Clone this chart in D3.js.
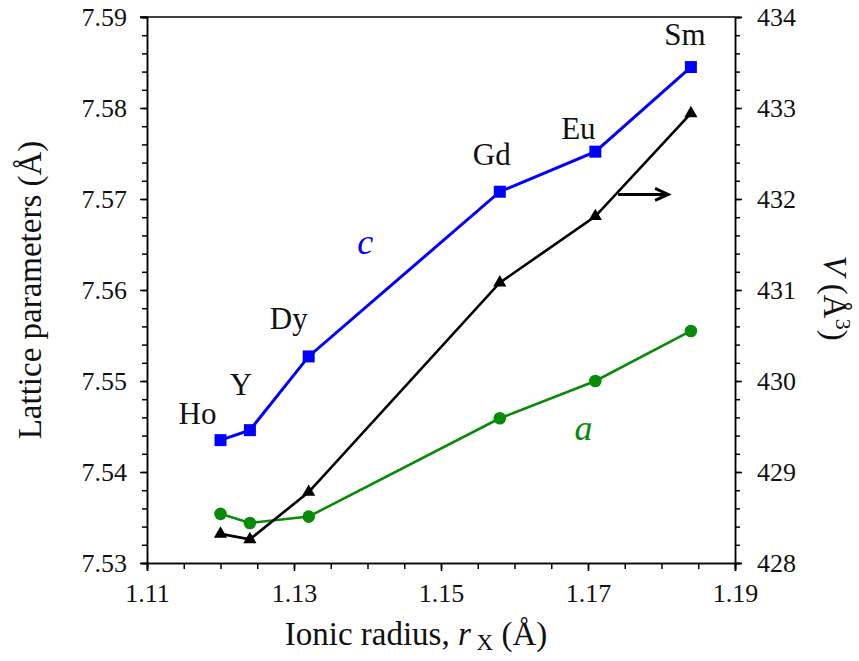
<!DOCTYPE html>
<html lang="en">
<head>
<meta charset="utf-8">
<script src="https://d3js.org/d3.v7.min.js"></script>
<style>
	body {margin:0; background:#fff;}
	svg text {font-family: "Liberation Serif", "Times New Roman", Times, "DejaVu Serif", serif; fill:#111;}
	.axis path, .axis line {stroke:#000; stroke-width:1.5px;}
</style>
</head>
<body>
<script>
	// ionic radius of X (Å)
	var elements = ["Ho", "Y", "Dy", "Gd", "Eu", "Sm"];
	var radius = [1.120, 1.124, 1.132, 1.158, 1.171, 1.184];
	// lattice parameters (Å)
	var cParam = [7.5435, 7.5446, 7.5527, 7.5708, 7.5752, 7.5845];
	var aParam = [7.5354, 7.5344, 7.5351, 7.5459, 7.5500, 7.5555];
	// cell volume (Å^3), right axis
	var volume = [428.32, 428.26, 428.78, 431.08, 431.81, 432.94];

	var xTicks = [1.11, 1.13, 1.15, 1.17, 1.19];
	var yTicks = [7.53, 7.54, 7.55, 7.56, 7.57, 7.58, 7.59];
	var vTicks = [428, 429, 430, 431, 432, 433, 434];

	var serif = "'Liberation Serif', 'Times New Roman', Times, 'DejaVu Serif', serif";

	var margin = {top: 17, right: 124, bottom: 98, left: 147},
		width = 859 - margin.left - margin.right,
		height = 661 - margin.top - margin.bottom;

	var svg = d3.select("body").append("svg")
		.attr("width", 859)
		.attr("height", 661)
		.attr("font-family", serif)
		.append("g")
		.attr("transform", "translate(" + margin.left + "," + margin.top + ")");

	var x = d3.scaleLinear().domain([1.11, 1.19]).range([0, width]);
	var y = d3.scaleLinear().domain([7.53, 7.59]).range([height, 0]);
	var yV = d3.scaleLinear().domain([428, 434]).range([height, 0]);

	// minor ticks first
	svg.append("g").attr("class", "axis").attr("transform", "translate(0," + height + ")")
		.call(d3.axisBottom(x).tickValues(d3.range(1.11, 1.1901, 0.005)).tickSize(6).tickFormat(""));
	svg.append("g").attr("class", "axis")
		.call(d3.axisLeft(y).tickValues(d3.range(7.53, 7.5901, 0.002)).tickSize(5).tickFormat(""));
	svg.append("g").attr("class", "axis").attr("transform", "translate(" + width + ",0)")
		.call(d3.axisRight(yV).tickValues(d3.range(428, 434.01, 0.2)).tickSize(5).tickFormat(""));

	// major ticks with labels
	svg.append("g").attr("class", "axis").attr("transform", "translate(0," + height + ")")
		.call(d3.axisBottom(x).tickValues(xTicks).tickSize(8).tickPadding(13).tickFormat(d3.format(".2f")));
	svg.append("g").attr("class", "axis")
		.call(d3.axisLeft(y).tickValues(yTicks).tickSize(7).tickPadding(13).tickFormat(d3.format(".2f")));
	svg.append("g").attr("class", "axis").attr("transform", "translate(" + width + ",0)")
		.call(d3.axisRight(yV).tickValues(vTicks).tickSize(7).tickPadding(15).tickFormat(d3.format("d")));
	svg.selectAll(".axis").attr("font-family", serif);
	svg.selectAll(".axis text").attr("font-size", 26).attr("fill", "#111");
	svg.selectAll(".axis .domain").attr("fill", "none");

	// top frame
	svg.append("line").attr("x1", -7).attr("x2", width).attr("y1", 0).attr("y2", 0)
		.attr("stroke", "#000").attr("stroke-width", 1.5);

	var pts = radius.map(function(r, i) {
		return {x: r, a: aParam[i], c: cParam[i], v: volume[i], el: elements[i]};
	});

	// a (green)
	svg.append("path").datum(pts)
		.attr("fill", "none").attr("stroke", "#0a8a0a").attr("stroke-width", 2.6)
		.attr("d", d3.line().x(function(d) {return x(d.x);}).y(function(d) {return y(d.a);}));
	svg.selectAll("circle.a").data(pts).enter().append("circle")
		.attr("cx", function(d) {return x(d.x);})
		.attr("cy", function(d) {return y(d.a);})
		.attr("r", 6.3).attr("fill", "#0a8a0a");

	// V (black)
	svg.append("path").datum(pts)
		.attr("fill", "none").attr("stroke", "#000").attr("stroke-width", 2.6)
		.attr("d", d3.line().x(function(d) {return x(d.x);}).y(function(d) {return yV(d.v);}));
	svg.selectAll("path.tri").data(pts).enter().append("path")
		.attr("class", "tri")
		.attr("transform", function(d) {return "translate(" + x(d.x) + "," + yV(d.v) + ")";})
		.attr("d", d3.symbol().type(d3.symbolTriangle).size(75))
		.attr("fill", "#000");

	// c (blue)
	svg.append("path").datum(pts)
		.attr("fill", "none").attr("stroke", "#0000ff").attr("stroke-width", 3)
		.attr("d", d3.line().x(function(d) {return x(d.x);}).y(function(d) {return y(d.c);}));
	svg.selectAll("rect.c").data(pts).enter().append("rect")
		.attr("x", function(d) {return x(d.x) - 6;})
		.attr("y", function(d) {return y(d.c) - 6;})
		.attr("width", 12).attr("height", 12).attr("fill", "#0000ff");

	// element labels
	var labelOffset = {Ho: [-23, -16], Y: [-9, -35], Dy: [-20, -27], Gd: [-8, -27], Eu: [-17, -13], Sm: [-6, -22]};
	svg.selectAll("text.el").data(pts).enter().append("text")
		.attr("class", "el")
		.attr("x", function(d) {return x(d.x) + labelOffset[d.el][0];})
		.attr("y", function(d) {return y(d.c) + labelOffset[d.el][1];})
		.attr("text-anchor", "middle")
		.attr("font-size", 31)
		.text(function(d) {return d.el;});

	svg.append("text").attr("x", x(1.1397)).attr("y", y(7.5640))
		.attr("text-anchor", "middle").attr("font-size", 36).attr("font-style", "italic")
		.style("fill", "#0000ff").text("c");
	svg.append("text").attr("x", x(1.1694)).attr("y", y(7.5435))
		.attr("text-anchor", "middle").attr("font-size", 36).attr("font-style", "italic")
		.style("fill", "#0a8a0a").text("a");

	// arrow pointing to right axis
	svg.append("line")
		.attr("x1", x(1.1741)).attr("x2", x(1.1809))
		.attr("y1", yV(432.05)).attr("y2", yV(432.05))
		.attr("stroke", "#000").attr("stroke-width", 3);
	svg.append("path")
		.attr("transform", "translate(" + x(1.1809) + "," + yV(432.05) + ")")
		.attr("d", "M-13,-6 L0,0 L-13,6")
		.attr("fill", "none").attr("stroke", "#000").attr("stroke-width", 3)
		.attr("stroke-linejoin", "miter");

	// axis titles
	var title = svg.append("text")
		.attr("x", width / 2 - 25).attr("y", height + 82)
		.attr("text-anchor", "middle").attr("font-size", 33);
	title.append("tspan").text("Ionic radius, ");
	title.append("tspan").attr("font-style", "italic").text("r");
	title.append("tspan").attr("font-size", 23).attr("dy", 5).text(" X");
	title.append("tspan").attr("dy", -5).text(" (Å)");

	svg.append("text")
		.attr("transform", "translate(" + (-106) + "," + (height / 2) + ") rotate(-90)")
		.attr("text-anchor", "middle").attr("font-size", 33)
		.text("Lattice parameters (Å)");

	var vt = svg.append("text")
		.attr("transform", "translate(" + (width + 89) + "," + (height / 2 + 8) + ") rotate(90)")
		.attr("text-anchor", "middle").attr("font-size", 33);
	vt.append("tspan").attr("font-style", "italic").text("V");
	vt.append("tspan").text(" (Å");
	vt.append("tspan").attr("font-size", 22).attr("dy", -12).text("3");
	vt.append("tspan").attr("dy", 12).text(")");
</script>
</body>
</html>
